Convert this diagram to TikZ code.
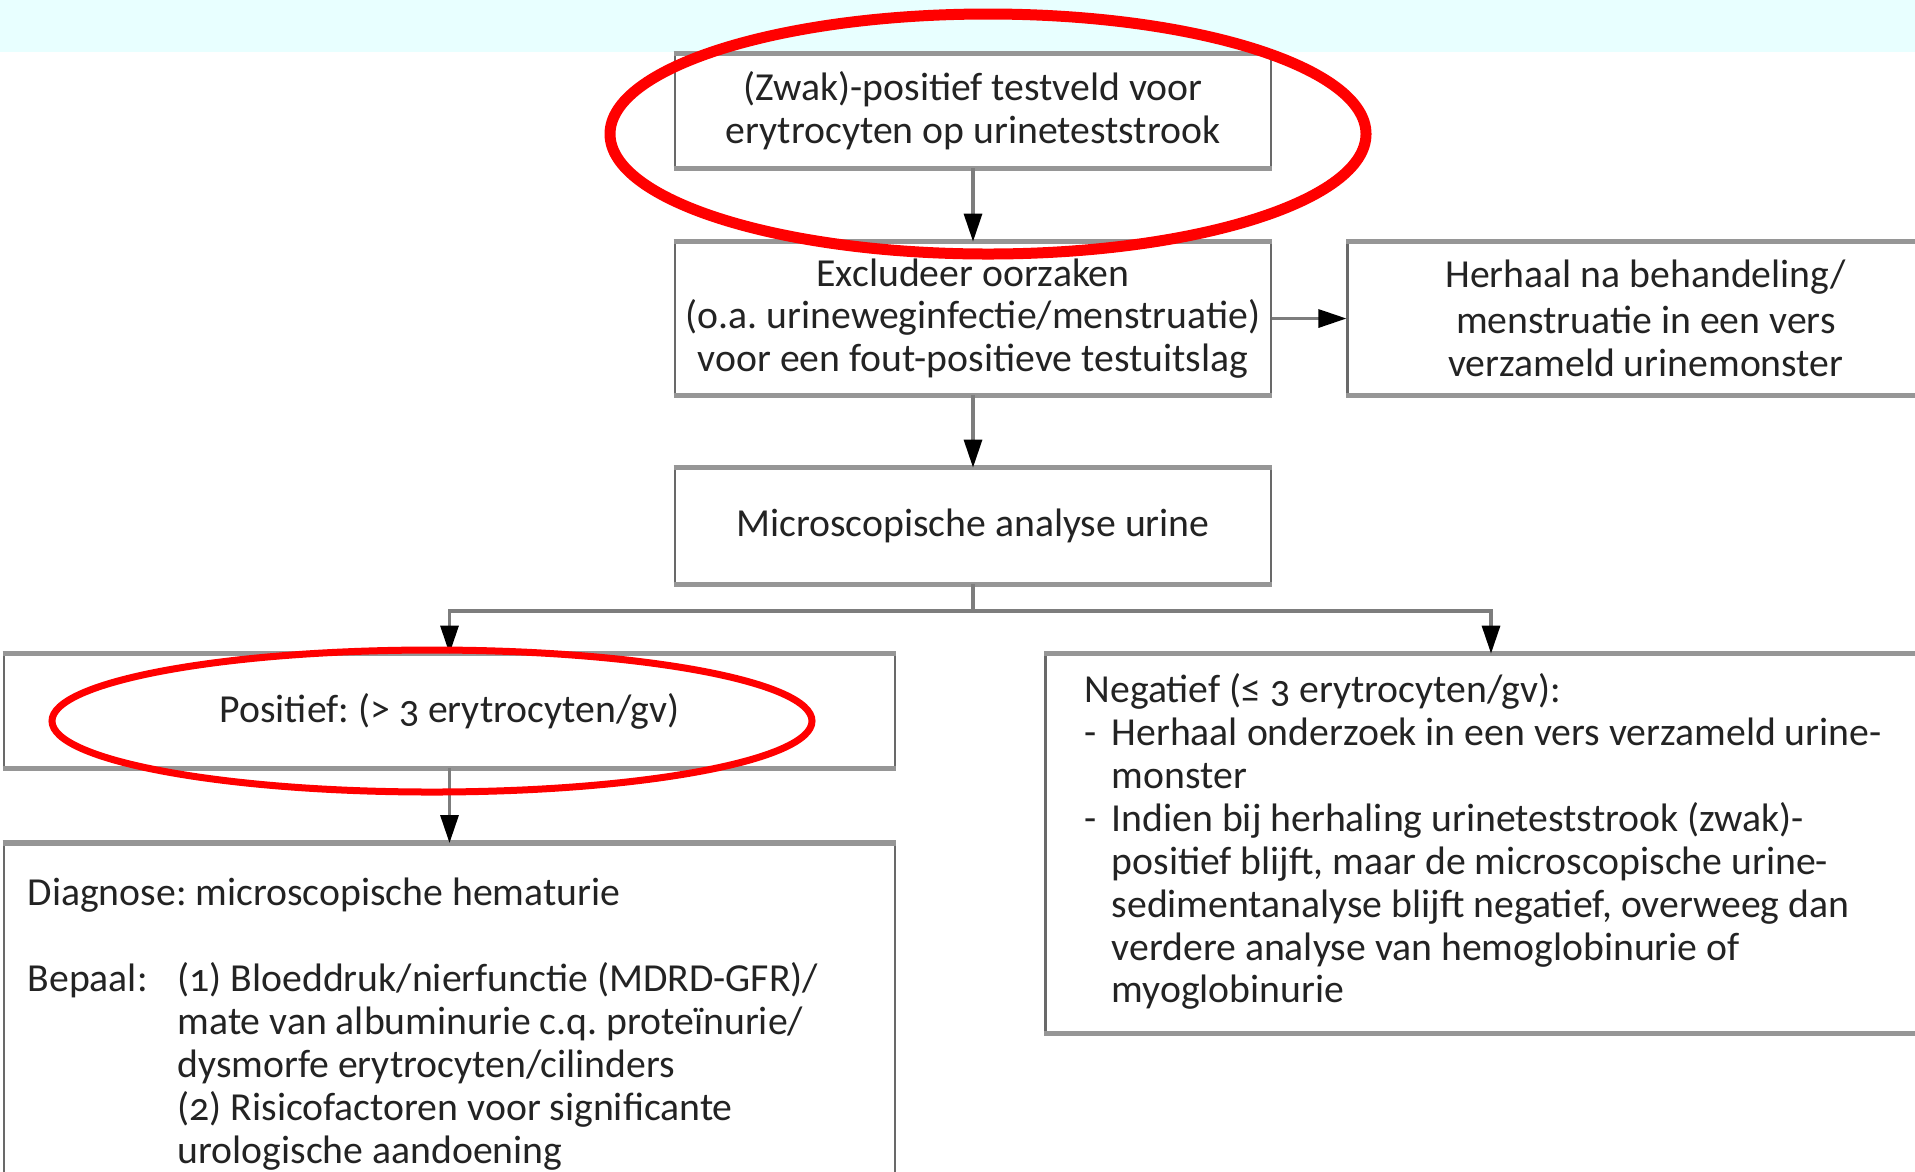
\documentclass[tikz,border=0pt]{standalone}
\usepackage{fontspec}
\setmainfont{Carlito}[Numbers=OldStyle]
\usepackage{tikz}
\usetikzlibrary{
    arrows.meta,
    positioning
}
\definecolor{bandcyan}{RGB}{232,255,255}
\definecolor{boxgray}{RGB}{105,105,105}
\definecolor{rimgray}{RGB}{150,150,150}
\definecolor{linegray}{RGB}{125,125,125}
\definecolor{textgray}{RGB}{35,35,35}

\begin{document}
\frenchspacing
\begin{tikzpicture}[
        >={Triangle[length=2.8mm,width=1.8mm,color=black]},
        box/.style={
            draw=boxgray,
            line width=0.8pt,
            minimum width=5.96cm,
            minimum height=1.12cm,
            inner sep=0pt,
            align=center,
            text=textgray,
            font=\fontsize{11.3}{12.2}\selectfont
        },
        wide/.style={
            box,
            minimum width=8.91cm
        },
        txt/.style={
            inner sep=0pt,
            anchor=north west,
            text=textgray,
            font=\fontsize{11.3}{12.2}\selectfont
        },
        rim/.style={draw=rimgray, line width=1.6pt},
        conn/.style={draw=linegray, line width=0.9pt},
        ring/.style={draw=red}
    ]
        \useasboundingbox (0,0) rectangle (19.15,-11.71);
        \clip (0,0) rectangle (19.15,-11.71);
        \fill[white] (0,0) rectangle (19.15,-11.71);
        \fill[bandcyan] (0,0) rectangle (19.15,-0.52);

        % boxes
        \node[box] (zwak) at (9.73,-1.11)
            {(Zwak)-positief testveld voor\\erytrocyten op urineteststrook};
        \node[box, minimum height=1.51cm] (excl) at (9.73,-3.185)
            {Excludeer oorzaken\\(o.a. urineweginfectie/menstruatie)\\voor een fout-positieve testuitslag};
        \node[box, minimum height=1.51cm, right=0.74cm of excl] (herhaal)
            {\raisebox{0.03cm}{Herhaal na behandeling/}\\menstruatie in een vers\\verzameld urinemonster};
        \node[box, minimum height=1.14cm] (micro) at (9.73,-5.26)
            {\raisebox{0.04cm}{Microscopische analyse urine}};
        \node[wide] (pos) at (4.495,-7.11)
            {\raisebox{0.06cm}{Positief: (> 3 erytrocyten/gv)}};
        \node[wide, minimum height=3.77cm] (neg) at (14.91,-8.435) {};
        \node[wide, minimum height=3.6cm, anchor=north] (diag) at (4.495,-8.43) {};
        \foreach \b in {zwak,excl,herhaal,micro,pos,neg,diag} {
            \draw[rim] (\b.north west) -- (\b.north east);
            \draw[rim] (\b.south west) -- (\b.south east);
        }

        % box texts
        \node[txt] (negtxt) at (10.84,-6.72) {%
            \begin{tabular}{@{}p{0.27cm}@{}l@{}}
                \multicolumn{2}{@{}l@{}}{Negatief (≤ 3 erytrocyten/gv):}\\
                - & Herhaal onderzoek in een vers verzameld urine-\\
                  & monster\\
                - & Indien bij herhaling urineteststrook (zwak)-\\
                  & positief blijft, maar de microscopische urine-\\
                  & sedimentanalyse blijft negatief, overweeg dan\\
                  & verdere analyse van hemoglobinurie of\\
                  & myoglobinurie
            \end{tabular}};
        \node[txt] (diagtxt) at (0.27,-8.75) {%
            \begin{tabular}{@{}p{1.5cm}@{}l@{}}
                \multicolumn{2}{@{}l@{}}{Diagnose: microscopische hematurie}\\
                \\
                Bepaal: & (1)\ Bloeddruk/nierfunctie (MDRD-GFR)/\\
                        & mate van albuminurie c.q. proteïnurie/\\
                        & dysmorfe erytrocyten/cilinders\\
                        & (2)\ Risicofactoren voor significante\\
                        & urologische aandoening
            \end{tabular}};

        % connectors
        \coordinate (split) at (9.73,-6.11);
        \draw[conn, ->] (zwak) -- (excl);
        \draw[conn, ->] (excl) -- (herhaal);
        \draw[conn, ->] (excl) -- (micro);
        \draw[conn] (micro) -- (split);
        \draw[conn, ->] (split) -| (pos.north);
        \draw[conn, ->] (split) -| (neg.north);
        \draw[conn, ->] (pos) -- (diag);

        % red markings
        \draw[ring, line width=0.11cm] (9.88,-1.34) ellipse [x radius=3.78cm, y radius=1.20cm];
        \draw[ring, line width=0.07cm] (4.32,-7.21) ellipse [x radius=3.80cm, y radius=0.71cm];
    \end{tikzpicture}
\end{document}
